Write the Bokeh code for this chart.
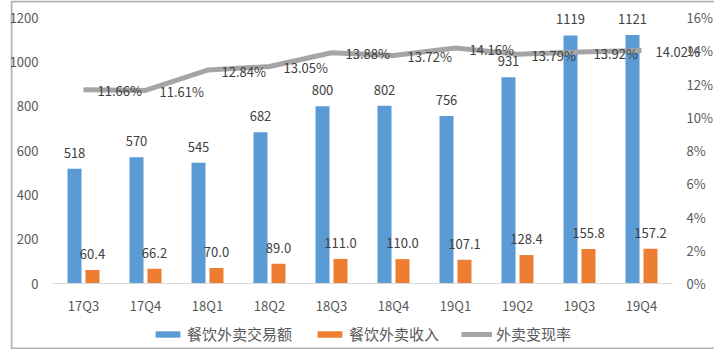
from bokeh.plotting import figure
from bokeh.models import (ColumnDataSource, Range1d, LinearAxis, FactorRange, Legend,
                          LegendItem, PrintfTickFormatter, FixedTicker, LabelSet, BoxAnnotation)
from bokeh.transform import dodge
from bokeh.core.properties import value
from bokeh.embed import file_html
from bokeh.resources import INLINE

quarters = ["17Q3", "17Q4", "18Q1", "18Q2", "18Q3", "18Q4", "19Q1", "19Q2", "19Q3", "19Q4"]
gmv = [518, 570, 545, 682, 800, 802, 756, 931, 1119, 1121]
revenue = [60.4, 66.2, 70.0, 89.0, 111.0, 110.0, 107.1, 128.4, 155.8, 157.2]
rate = [11.66, 11.61, 12.84, 13.05, 13.88, 13.72, 14.16, 13.79, 13.92, 14.02]
left_ticks = [0, 200, 400, 600, 800, 1000, 1200]
right_ticks = [0, 2, 4, 6, 8, 10, 12, 14, 16]
series_names = ["餐饮外卖交易额", "餐饮外卖收入", "外卖变现率"]

FONT = "Noto Sans CJK SC"
BLUE = "#5B9BD5"
ORANGE = "#ED7D31"
GRAY = "#A5A5A5"
TXT = "#595959"
LBL = "#404040"

# layout (px)
W, H = 714, 349
PLOT_TOP, PLOT_BOTTOM = 17, 283      # where max tick and zero sit
CAT_L, CAT_R = 52, 672               # category band extent
FRAME_L = 10
ph = PLOT_BOTTOM - PLOT_TOP
cat_px = (CAT_R - CAT_L) / len(quarters)
pad_px = CAT_L - FRAME_L             # equals W - CAT_R

def ext(lo, hi):
    u = (hi - lo) / ph
    return Range1d(lo - (H - PLOT_BOTTOM) * u, hi + PLOT_TOP * u)

src = ColumnDataSource(dict(
    q=quarters, gmv=gmv, rev=revenue, rate=rate,
    gmv_t=[str(v) for v in gmv],
    rev_t=["%.1f" % v for v in revenue],
    rate_t=["%.2f%%" % v for v in rate],
))

p = figure(width=W, height=H,
           x_range=FactorRange(*quarters, range_padding=pad_px / cat_px,
                               range_padding_units="absolute"),
           y_range=ext(left_ticks[0], left_ticks[-1]),
           output_backend="svg", toolbar_location=None,
           min_border_left=FRAME_L, min_border_right=0,
           min_border_top=0, min_border_bottom=0)
p.outline_line_color = None
p.xgrid.visible = False
p.ygrid.visible = False
p.background_fill_color = "white"
p.border_fill_color = "white"

p.extra_y_ranges = {"pct": ext(right_ticks[0], right_ticks[-1])}

b1 = p.vbar(x=dodge("q", -0.145, range=p.x_range), top="gmv", width=0.226,
            source=src, color=BLUE, line_color=None)
b2 = p.vbar(x=dodge("q", 0.145, range=p.x_range), top="rev", width=0.226,
            source=src, color=ORANGE, line_color=None)
ln = p.line(x="q", y="rate", source=src, y_range_name="pct",
            line_color=GRAY, line_width=5)

common = dict(source=src, text_font=value(FONT), text_font_size="13px", text_color=LBL)
p.add_layout(LabelSet(x=dodge("q", -0.145, range=p.x_range), y="gmv", text="gmv_t",
                      text_align="center", text_baseline="middle", y_offset=16, **common))
p.add_layout(LabelSet(x=dodge("q", 0.145, range=p.x_range), y="rev", text="rev_t",
                      text_align="center", text_baseline="middle", y_offset=16, **common))
p.add_layout(LabelSet(x="q", y="rate", text="rate_t", y_range_name="pct",
                      text_align="left", text_baseline="middle", x_offset=14, y_offset=-1,
                      **common))

def style_axis(a, standoff):
    a.major_tick_line_color = None
    a.minor_tick_line_color = None
    a.major_tick_out = 0
    a.major_tick_in = 0
    a.minor_tick_out = 0
    a.major_label_standoff = standoff
    a.major_label_text_font = FONT
    a.major_label_text_font_size = "13px"
    a.major_label_text_color = TXT

# category axis, drawn at zero
xa = p.xaxis[0]
xa.fixed_location = 0
xa.bounds = (0, len(quarters))
xa.axis_line_color = "#D9D9D9"
style_axis(xa, 12)

# left value axis at left edge of category band
ya = p.yaxis[0]
ya.fixed_location = 0
ya.ticker = FixedTicker(ticks=left_ticks)
ya.axis_line_color = None
style_axis(ya, 14)

ax = LinearAxis(y_range_name="pct", ticker=FixedTicker(ticks=right_ticks),
                formatter=PrintfTickFormatter(format="%d%%"),
                fixed_location=len(quarters))
ax.axis_line_color = None
style_axis(ax, 14)
p.add_layout(ax, "right")

legend = Legend(items=[LegendItem(label=series_names[0], renderers=[b1]),
                       LegendItem(label=series_names[1], renderers=[b2]),
                       LegendItem(label=series_names[2], renderers=[ln])],
                orientation="horizontal", location=(152 - FRAME_L, H - 344),
                padding=0, margin=0, spacing=22, label_standoff=4,
                glyph_width=31, glyph_height=8,
                label_text_font=FONT, label_text_font_size="15px",
                label_text_color=TXT, border_line_color=None,
                background_fill_alpha=0)
p.add_layout(legend)

# outer picture border
p.add_layout(BoxAnnotation(left=1, right=W - 1, top=1, bottom=H - 1,
                           left_units="screen", right_units="screen",
                           top_units="screen", bottom_units="screen",
                           fill_alpha=0, line_color="black", line_width=2))

open("out.html", "w").write(file_html(p, INLINE))
